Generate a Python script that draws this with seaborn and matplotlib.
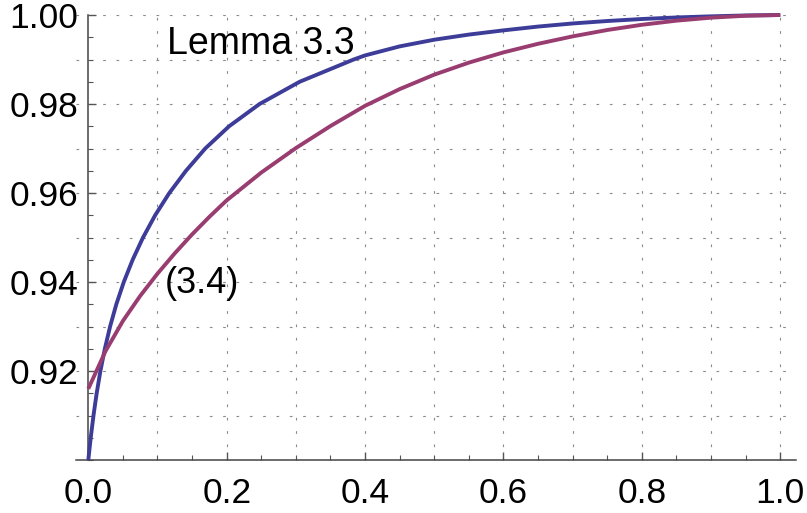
import numpy as np
import pandas as pd
import matplotlib
matplotlib.use("Agg")
import matplotlib.pyplot as plt
import seaborn as sns
from matplotlib.ticker import FixedLocator, MultipleLocator, FormatStrFormatter

# ---- data ----
lemma_x = [0.0, 0.0035, 0.0075, 0.0121, 0.0175, 0.0239, 0.0315, 0.0405, 0.0513, 0.0641,
           0.0791, 0.0966, 0.1171, 0.1412, 0.1690, 0.2035, 0.2475, 0.3055, 0.3835, 0.40,
           0.45, 0.50, 0.55, 0.60, 0.65, 0.70, 0.75, 0.80, 0.85, 0.90, 0.95, 1.0]
lemma_y = [0.900, 0.905, 0.910, 0.915, 0.920, 0.925, 0.930, 0.935, 0.940, 0.945,
           0.950, 0.955, 0.960, 0.965, 0.970, 0.975, 0.980, 0.985, 0.990, 0.99092,
           0.99295, 0.99445, 0.9956, 0.99655, 0.9974, 0.9981, 0.99865, 0.9991, 0.99945, 0.9997, 0.9999, 1.0]

eq_x = [0.0, 0.025, 0.05, 0.075, 0.10, 0.125, 0.15, 0.175, 0.20, 0.25, 0.30, 0.35, 0.40,
        0.45, 0.50, 0.55, 0.60, 0.65, 0.70, 0.75, 0.80, 0.85, 0.90, 0.95, 1.0]
eq_y = [0.9160, 0.9245, 0.93125, 0.93688, 0.94188, 0.94645, 0.9507, 0.95465, 0.95835, 0.9646, 0.9701, 0.97505, 0.9796,
        0.98335, 0.9866, 0.9893, 0.9916, 0.99353, 0.9952, 0.99663, 0.9978, 0.99873, 0.9994, 0.99983, 1.0]

x_ticks = [0.0, 0.2, 0.4, 0.6, 0.8, 1.0]
y_ticks = [0.92, 0.94, 0.96, 0.98, 1.00]
labels = ["Lemma 3.3", "(3.4)"]

sns.set_theme(style="white")
plt.rcParams["font.family"] = ["Liberation Sans", "DejaVu Sans"]

fig = plt.figure(figsize=(8.07, 5.13), dpi=100)
ax = fig.add_axes([75.5 / 807, 53 / 513, 720 / 807, 445 / 513])

blue = "#3d3d99"
purple = "#993d71"

# grid (Mathematica-style dotted, extends over the padded plot range)
grid_kw = dict(color="#8a8a8a", linewidth=0.8, linestyle=(0, (2.4, 9.6)), zorder=0)
for gy in np.arange(0.91, 1.0001, 0.01):
    ax.axhline(gy, **grid_kw)
for gx in np.arange(0.1, 1.0001, 0.1):
    ax.axvline(gx, **grid_kw)

df1 = pd.DataFrame({"x": lemma_x, "y": lemma_y})
df2 = pd.DataFrame({"x": eq_x, "y": eq_y})
sns.lineplot(data=df1, x="x", y="y", color=blue, linewidth=2.8, ax=ax, clip_on=False,
             zorder=3, solid_joinstyle="round", solid_capstyle="butt")
sns.lineplot(data=df2, x="x", y="y", color=purple, linewidth=2.8, ax=ax, clip_on=False,
             zorder=3, solid_joinstyle="round", solid_capstyle="butt")

ax.text(0.114, 0.99133, labels[0], fontsize=27, ha="left", va="baseline", color="black")
ax.text(0.111, 0.9375, labels[1], fontsize=26, ha="left", va="baseline", color="black")

ax.set_xlim(-0.0185, 1.022)
ax.set_ylim(0.90, 1.00)
ax.set_xlabel("")
ax.set_ylabel("")

for s in ["top", "right"]:
    ax.spines[s].set_visible(False)
ax.spines["left"].set_position(("data", 0.0))
ax.spines["left"].set_bounds(0.90, 1.00)
for s in ["left", "bottom"]:
    ax.spines[s].set_color("#444444")
    ax.spines[s].set_linewidth(1.1)

ax.xaxis.set_major_locator(FixedLocator(x_ticks))
ax.xaxis.set_minor_locator(MultipleLocator(0.05))
ax.yaxis.set_major_locator(FixedLocator(y_ticks))
ax.yaxis.set_minor_locator(MultipleLocator(0.005))
ax.xaxis.set_major_formatter(FormatStrFormatter("%.1f"))
ax.yaxis.set_major_formatter(FormatStrFormatter("%.2f"))

ax.tick_params(axis="both", which="major", direction="in", length=6, width=1.0,
               color="#555555", labelsize=25.5, labelcolor="black")
ax.tick_params(axis="both", which="minor", direction="in", length=3.5, width=0.8,
               color="#555555")
ax.tick_params(axis="x", which="major", pad=12, bottom=True)
ax.tick_params(axis="x", which="minor", bottom=True)
ax.tick_params(axis="y", which="major", pad=7, left=True)
ax.tick_params(axis="y", which="minor", left=True)

fig.savefig("out.png", dpi=100)
